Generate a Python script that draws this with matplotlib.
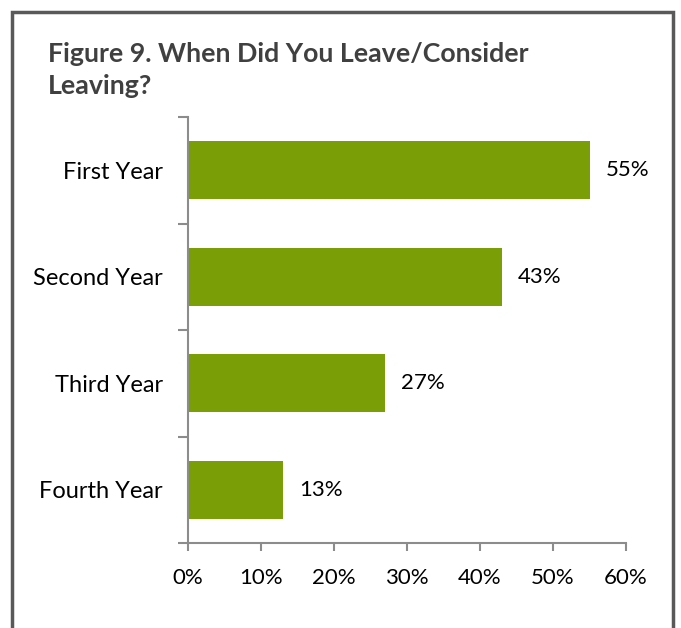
import matplotlib.pyplot as plt
from matplotlib.patches import Rectangle
import numpy as np

plt.rcParams['font.family'] = ['Lato', 'DejaVu Sans']

categories = ["First Year", "Second Year", "Third Year", "Fourth Year"]
values = [55, 43, 27, 13]
xticks = [0, 10, 20, 30, 40, 50, 60]

fig = plt.figure(figsize=(6.81, 6.28), dpi=100)
ax = fig.add_axes([188/681, 1 - 543/628, (626 - 188)/681, (543 - 117)/628])

y = np.arange(len(categories))[::-1]
ax.barh(y, values, height=0.54, color="#7a9f06", edgecolor="none", zorder=2)

for yi, v in zip(y, values):
    ax.text(v + 2.2, yi, f"{v}%", va="center", ha="left", fontsize=16, color="black")

ax.set_xlim(0, 60)
ax.set_ylim(-0.5, len(categories) - 0.5)
ax.set_xticks(xticks)
ax.set_xticklabels([f"{t}%" for t in xticks], fontsize=16)
ax.set_yticks(y)
ax.set_yticklabels(categories, fontsize=17)
ax.set_yticks(np.arange(-0.5, len(categories), 1), minor=True)

ax.tick_params(axis="y", which="major", length=0, pad=18)
ax.tick_params(axis="y", which="minor", length=7, color="#8c8c8c", width=1.5, direction="out")
ax.tick_params(axis="x", length=6, color="#8c8c8c", width=1.5, direction="out", pad=12)

for s in ["top", "right"]:
    ax.spines[s].set_visible(False)
for s in ["left", "bottom"]:
    ax.spines[s].set_color("#8c8c8c")
    ax.spines[s].set_linewidth(1.5)

fig.text(48/681, 1 - 70/628, "Figure 9. When Did You Leave/Consider\nLeaving?",
         fontsize=19.3, fontweight="bold", color="#404040", va="center", ha="left",
         linespacing=1.45)

fig.patches.append(Rectangle((12/681, -0.05), (673 - 12)/681, 1.05 - 12/628,
                             transform=fig.transFigure, fill=False,
                             edgecolor="#595959", linewidth=2.5))

fig.savefig("out.png", dpi=100)
